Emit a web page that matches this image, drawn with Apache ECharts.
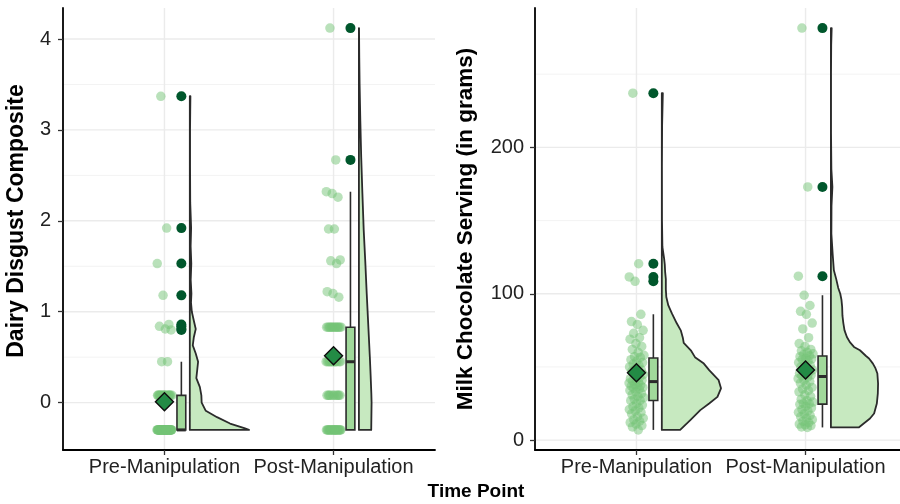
<!DOCTYPE html>
<html>
<head>
<meta charset="utf-8">
<script src="https://cdn.jsdelivr.net/npm/echarts@6/dist/echarts.min.js"></script>
<style>
  html, body { margin: 0; padding: 0; background: #fff; }
  #chart { width: 900px; height: 504px; }
</style>
</head>
<body>
<div id="chart"></div>
<script>
  const timePoints = ['Pre-Manipulation', 'Post-Manipulation']

  // Dairy Disgust Composite, one value per participant
  const disgustPre = [
    -0.3, -0.3, -0.3, -0.3, -0.3, -0.3, -0.3, -0.3, -0.3, -0.3,
    -0.3, -0.3, -0.3, -0.3, -0.3, -0.3, -0.3, -0.3, -0.3, -0.3,
    -0.3, -0.3, -0.3, -0.3, -0.3, -0.3, -0.3, -0.3, -0.3, -0.3,
    -0.3, -0.3, -0.3, -0.3, -0.3, -0.3, -0.3, -0.3, -0.3, -0.3,
    -0.3, -0.3, -0.3, 0.08, 0.08, 0.08, 0.08, 0.08, 0.08, 0.08,
    0.08, 0.08, 0.08, 0.08, 0.08, 0.08, 0.08, 0.08, 0.08, 0.08,
    0.45, 0.45, 0.80, 0.81, 0.84, 0.86, 1.18, 1.53, 1.92, 3.37
  ]
  const disgustPost = [
    -0.3, -0.3, -0.3, -0.3, -0.3, -0.3, -0.3, -0.3, -0.3, -0.3,
    -0.3, -0.3, -0.3, -0.3, -0.3, -0.3, -0.3, -0.3, -0.3, -0.3,
    -0.3, -0.3, 0.08, 0.08, 0.08, 0.08, 0.08, 0.08, 0.08, 0.08,
    0.08, 0.08, 0.45, 0.45, 0.45, 0.45, 0.45, 0.45, 0.45, 0.45,
    0.45, 0.45, 0.45, 0.45, 0.83, 0.83, 0.83, 0.83, 0.83, 0.83,
    0.83, 0.83, 0.83, 0.83, 0.83, 0.83, 0.83, 1.16, 1.20, 1.22,
    1.53, 1.56, 1.57, 1.91, 1.91, 2.26, 2.30, 2.32, 2.67, 4.12
  ]

  // Milk Chocolate Serving (in grams)
  const chocPre = [
    7, 9, 10, 11, 12, 13, 14, 15, 16, 18,
    19, 20, 21, 22, 23, 24, 25, 27, 27.2, 28,
    29, 30, 31, 32, 33, 34, 35, 35.5, 36, 36.5,
    37, 37.5, 38, 39, 39.5, 40.5, 41, 41.5, 42, 43,
    44, 45, 46, 47, 48, 49, 50, 51, 52, 53,
    54, 55, 56.5, 57, 58, 60, 62, 64, 66, 69,
    70, 73, 75, 79, 81, 86, 108.5, 111.5, 120.5, 237
  ]
  const chocPost = [
    8.7, 9, 10, 10.5, 11, 12, 13, 14, 15, 16,
    17, 18, 19, 20, 21, 22, 23, 24.5, 24.9, 25,
    26, 27, 28, 30, 31, 33, 34, 35, 36, 37.5,
    39, 40, 41, 42, 43, 44, 44.5, 45, 45.5, 46,
    47, 48, 49, 50, 51, 52, 53, 54, 55, 55.5,
    56, 57, 57.7, 58.5, 59, 60, 61, 62, 64, 66,
    70, 76, 80, 86, 88, 92, 99, 112, 173, 281.5
  ]

  // half-violin outlines: [value, relative width]
  const disgustPreDensity = [
    [-0.30, 1.00], [-0.28, 0.92], [-0.23, 0.68], [-0.16, 0.46], [-0.09, 0.27],
    [0.00, 0.20], [0.08, 0.195], [0.17, 0.17], [0.27, 0.11], [0.37, 0.127],
    [0.45, 0.14], [0.54, 0.10], [0.63, 0.05], [0.72, 0.068], [0.81, 0.10],
    [0.90, 0.068], [1.00, 0.034], [1.10, 0.02], [1.20, 0.027], [1.35, 0.015],
    [1.53, 0.025], [1.72, 0.014], [1.92, 0.022], [2.20, 0.007], [2.60, 0.004],
    [3.00, 0.004], [3.20, 0.007], [3.37, 0.01]
  ]
  const disgustPostDensity = [
    [-0.30, 0.208], [0.00, 0.214], [0.10, 0.21], [0.30, 0.198], [0.50, 0.185],
    [0.83, 0.16], [1.20, 0.132], [1.56, 0.107], [1.90, 0.081], [2.30, 0.059],
    [2.70, 0.039], [3.10, 0.024], [3.50, 0.012], [3.80, 0.006], [4.12, 0.002]
  ]
  const chocPreDensity = [
    [7, 0.31], [14, 0.49], [20.5, 0.65], [25, 0.80], [29.6, 0.94],
    [35.4, 1.00], [41, 0.96], [44.4, 0.88], [47.8, 0.80], [52.3, 0.71],
    [56.7, 0.56], [61.4, 0.49], [66.5, 0.37], [70, 0.355], [75, 0.32],
    [80, 0.25], [86.6, 0.17], [92, 0.11], [97.8, 0.076], [103, 0.068],
    [110, 0.068], [115, 0.056], [120, 0.05], [124, 0.039], [132, 0.01],
    [150, 0.003], [187, 0.002], [215, 0.005], [237, 0.017]
  ]
  const chocPostDensity = [
    [8.7, 0.47], [14.8, 0.66], [18.2, 0.73], [25, 0.776], [32, 0.793],
    [38.7, 0.797], [45.5, 0.785], [49, 0.754], [52.3, 0.71], [55.8, 0.644],
    [57.5, 0.593], [61.4, 0.49], [63.7, 0.39], [67, 0.32], [70.5, 0.27],
    [75, 0.23], [80, 0.21], [85, 0.195], [91, 0.19], [96, 0.178],
    [100, 0.158], [104, 0.124], [110, 0.09], [116, 0.05], [127, 0.03],
    [141, 0.008], [160, 0.01], [173, 0.025], [185, 0.008], [210, 0.002],
    [250, 0.002], [270, 0.005], [281.5, 0.013]
  ]

  const disgustTicks = [0, 1, 2, 3, 4]
  const disgustMinorTicks = [0.5, 1.5, 2.5, 3.5]
  const chocTicks = [0, 100, 200]
  const chocMinorTicks = [50, 150, 250]

  const X_MIN = 0.4
  const X_MAX = 2.6
  const BOX_OFFSET = 0.1
  const BOX_HALF = 0.026
  const VIOLIN_OFFSET = 0.15
  const VIOLIN_SCALE = 0.35
  const JITTER = 0.045
  const FONT = '"Liberation Sans", Arial, Helvetica, sans-serif'
  const LINE = '#2b2b2b'

  // ggplot-style (type 7) quantile
  function quantile(sorted, p) {
    const h = (sorted.length - 1) * p
    const lo = Math.floor(h)
    const hi = Math.min(lo + 1, sorted.length - 1)
    return sorted[lo] + (h - lo) * (sorted[hi] - sorted[lo])
  }

  function boxStats(values) {
    const s = values.slice().sort((a, b) => a - b)
    const q1 = quantile(s, 0.25)
    const med = quantile(s, 0.5)
    const q3 = quantile(s, 0.75)
    const iqr = q3 - q1
    const inside = s.filter(v => v >= q1 - 1.5 * iqr && v <= q3 + 1.5 * iqr)
    return {
      sorted: s, q1, med, q3,
      low: inside[0],
      high: inside[inside.length - 1],
      outliers: s.filter(v => v < q1 - 1.5 * iqr || v > q3 + 1.5 * iqr),
      mean: s.reduce((a, b) => a + b, 0) / s.length
    }
  }

  // spread of the jittered cloud (golden-ratio sequence so it stays fixed)
  function jitter(i) {
    return (((i + 1) * 0.6180339887) % 1 - 0.5) * 2 * JITTER
  }

  function yRange(groups) {
    const all = [].concat(...groups)
    const lo = Math.min(...all)
    const hi = Math.max(...all)
    const pad = (hi - lo) * 0.05
    return [lo - pad, hi + pad]
  }

  function panelSeries(idx, groups, densities, ticks, minorTicks, range) {
    const stats = groups.map(boxStats)
    const mid = (range[0] + range[1]) / 2
    const axes = { xAxisIndex: idx, yAxisIndex: idx }

    const gridRows = ticks.map(v => ['h', v, true])
      .concat(minorTicks.map(v => ['h', v, false]))
      .concat(timePoints.map((c, i) => ['v', i + 1, true]))

    return [{
      type: 'custom', ...axes, silent: true, z: 0,
      data: gridRows.map(() => [1.5, mid]),
      renderItem(params, api) {
        const r = gridRows[params.dataIndex]
        const a = r[0] === 'h' ? api.coord([X_MIN, r[1]]) : api.coord([r[1], range[0]])
        const b = r[0] === 'h' ? api.coord([X_MAX, r[1]]) : api.coord([r[1], range[1]])
        return {
          type: 'line',
          shape: { x1: a[0], y1: a[1], x2: b[0], y2: b[1] },
          style: { stroke: r[2] ? '#ebebeb' : '#f3f3f3', lineWidth: r[2] ? 1.4 : 1 }
        }
      }
    }, {
      // half violins
      type: 'custom', ...axes, silent: true, z: 2,
      data: groups.map((g, i) => [i + 1, mid]),
      renderItem(params, api) {
        const gi = params.dataIndex
        const base = gi + 1 + VIOLIN_OFFSET
        const prof = densities[gi]
        const pts = prof.map(p => api.coord([base + p[1] * VIOLIN_SCALE, p[0]]))
        pts.push(api.coord([base, prof[prof.length - 1][0]]))
        pts.push(api.coord([base, prof[0][0]]))
        return {
          type: 'polygon',
          shape: { points: pts },
          style: { fill: '#c7e9c0', stroke: LINE, lineWidth: 1.8, lineJoin: 'round' }
        }
      }
    }, {
      type: 'scatter', ...axes, z: 3, silent: true,
      symbolSize: 9.5,
      itemStyle: { color: '#74c476', opacity: 0.5 },
      data: [].concat(...stats.map((st, gi) => st.sorted.map((v, i) => [gi + 1 + jitter(i), v])))
    }, {
      // boxplots
      type: 'custom', ...axes, silent: true, z: 4,
      data: groups.map((g, i) => [i + 1, mid]),
      renderItem(params, api) {
        const st = stats[params.dataIndex]
        const cx = params.dataIndex + 1 + BOX_OFFSET
        const lowP = api.coord([cx, st.low])
        const highP = api.coord([cx, st.high])
        const q1L = api.coord([cx - BOX_HALF, st.q1])
        const q3R = api.coord([cx + BOX_HALF, st.q3])
        const mL = api.coord([cx - BOX_HALF, st.med])
        const mR = api.coord([cx + BOX_HALF, st.med])
        const lineStyle = { stroke: LINE, lineWidth: 1.6 }
        return {
          type: 'group',
          children: [
            { type: 'line', shape: { x1: lowP[0], y1: lowP[1], x2: lowP[0], y2: q1L[1] }, style: lineStyle },
            { type: 'line', shape: { x1: highP[0], y1: highP[1], x2: highP[0], y2: q3R[1] }, style: lineStyle },
            {
              type: 'rect',
              shape: { x: q1L[0], y: q3R[1], width: q3R[0] - q1L[0], height: q1L[1] - q3R[1] },
              style: { fill: '#a1d99b', stroke: LINE, lineWidth: 1.6 }
            },
            { type: 'line', shape: { x1: mL[0], y1: mL[1], x2: mR[0], y2: mR[1] }, style: { stroke: LINE, lineWidth: 3 } }
          ]
        }
      }
    }, {
      type: 'scatter', ...axes, z: 5, silent: true,
      symbolSize: 10,
      itemStyle: { color: '#00572c', opacity: 1 },
      data: [].concat(...stats.map((st, gi) => st.outliers.map(v => [gi + 1 + BOX_OFFSET, v])))
    }, {
      type: 'scatter', ...axes, z: 6, silent: true,
      symbol: 'diamond',
      symbolSize: 18,
      itemStyle: { color: '#238b45', borderColor: '#0d0d0d', borderWidth: 1.4, opacity: 1 },
      data: stats.map((st, gi) => [gi + 1, st.mean])
    }]
  }

  function xAxisFor(idx) {
    return {
      gridIndex: idx, type: 'value', min: X_MIN, max: X_MAX,
      axisLine: { show: true, onZero: false, lineStyle: { color: '#000', width: 1.8 } },
      axisTick: { show: true, customValues: [1, 2], length: 5, lineStyle: { color: '#333', width: 1.3 } },
      axisLabel: {
        customValues: [1, 2], margin: 7,
        formatter: v => timePoints[Math.round(v) - 1],
        fontSize: 20, color: '#222', fontFamily: FONT
      },
      splitLine: { show: false }
    }
  }

  function yAxisFor(idx, range, ticks, margin) {
    return {
      gridIndex: idx, type: 'value', min: range[0], max: range[1],
      axisLine: { show: true, onZero: false, lineStyle: { color: '#000', width: 1.8 } },
      axisTick: { show: true, customValues: ticks, length: 5, lineStyle: { color: '#333', width: 1.3 } },
      axisLabel: { customValues: ticks, margin: margin, fontSize: 20, color: '#222', fontFamily: FONT },
      splitLine: { show: false }
    }
  }

  const disgustRange = yRange([disgustPre, disgustPost])
  const chocRange = yRange([chocPre, chocPost])

  const chart = echarts.init(document.getElementById('chart'))
  chart.setOption({
    animation: false,
    backgroundColor: '#fff',
    grid: [
      { left: 63, top: 8, width: 372, height: 442, outerBoundsMode: 'none' },
      { left: 535, top: 8, width: 372, height: 442, outerBoundsMode: 'none' }
    ],
    xAxis: [xAxisFor(0), xAxisFor(1)],
    yAxis: [yAxisFor(0, disgustRange, disgustTicks, 12), yAxisFor(1, chocRange, chocTicks, 11)],
    graphic: [
      {
        type: 'text', x: 17, y: 221, rotation: Math.PI / 2,
        style: { text: 'Dairy Disgust Composite', fontSize: 23, fontWeight: 'bold', fontFamily: FONT, fill: '#000', align: 'center', verticalAlign: 'middle' }
      },
      {
        type: 'text', x: 466, y: 229, rotation: Math.PI / 2,
        style: { text: 'Milk Chocolate Serving (in grams)', fontSize: 22.5, fontWeight: 'bold', fontFamily: FONT, fill: '#000', align: 'center', verticalAlign: 'middle' }
      },
      {
        type: 'text', x: 476, y: 492,
        style: { text: 'Time Point', fontSize: 19, fontWeight: 'bold', fontFamily: FONT, fill: '#000', align: 'center', verticalAlign: 'middle' }
      }
    ],
    series: [].concat(
      panelSeries(0, [disgustPre, disgustPost], [disgustPreDensity, disgustPostDensity], disgustTicks, disgustMinorTicks, disgustRange),
      panelSeries(1, [chocPre, chocPost], [chocPreDensity, chocPostDensity], chocTicks, chocMinorTicks, chocRange)
    )
  })
</script>
</body>
</html>
